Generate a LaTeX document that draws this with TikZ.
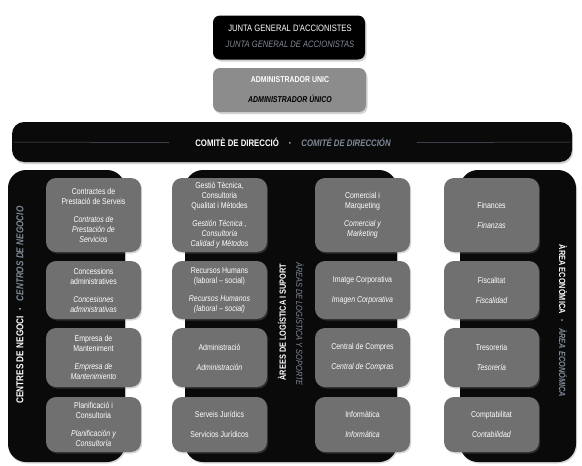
\documentclass[tikz,border=0pt]{standalone}
\usepackage{fontspec}
\setmainfont{Liberation Sans}
\newfontfamily\cond[FakeStretch=0.82]{Liberation Sans}
\usetikzlibrary{shadows}
\definecolor{boxgray}{RGB}{112,112,112}
\definecolor{admgray}{RGB}{140,140,140}
\definecolor{paneldark}{RGB}{10,10,10}
\definecolor{bluegray}{RGB}{128,138,152}
\definecolor{linegray}{RGB}{85,95,108}
\tikzset{
  gbox/.style={draw=none, fill=boxgray, rounded corners=10pt, minimum width=95pt,
    inner sep=0pt, align=center, text=white,
    font=\cond\fontsize{8.5}{10}\selectfont,
    drop shadow={opacity=0.3, shadow xshift=1.2pt, shadow yshift=-1.5pt}},
  rowa/.style={minimum height=74pt},
  rowb/.style={minimum height=58pt},
  rowc/.style={minimum height=59pt},
  rowd/.style={minimum height=55pt},
  panel/.style={fill=paneldark, draw=none, rounded corners=18pt, inner sep=0pt,
    drop shadow={opacity=0.3, shadow xshift=1pt, shadow yshift=-1.5pt}},
}
\begin{document}
\begin{tikzpicture}[x=1pt,y=-1pt]
\useasboundingbox (0,0) rectangle (582,466);
\fill[white] (0,0) rectangle (582,466);

% top boxes
\node[fill=black, rounded corners=7pt, minimum width=152pt, minimum height=44pt, inner sep=0pt,
  drop shadow={opacity=0.35, shadow xshift=1.5pt, shadow yshift=-2pt}] (junta) at (289,37.5) {};
\node[text=white, font=\cond\fontsize{9.3}{11}\selectfont, inner sep=0pt] (juntaca) at (290,28.5) {JUNTA GENERAL D'ACCIONISTES};
\node[text=bluegray, font=\cond\itshape\fontsize{9.3}{11}\selectfont, inner sep=0pt] (juntaes) at (290,44.5) {JUNTA GENERAL DE ACCIONISTAS};

\node[fill=admgray, rounded corners=7pt, minimum width=153pt, minimum height=44pt, inner sep=0pt,
  drop shadow={opacity=0.35, shadow xshift=1.5pt, shadow yshift=-2pt}] (admin) at (289.5,90) {};
\node[text=white, font=\cond\bfseries\fontsize{8.5}{10}\selectfont, inner sep=0pt] (adminca) at (290,79.5) {ADMINISTRADOR UNIC};
\node[text=black, font=\cond\bfseries\itshape\fontsize{8.5}{10}\selectfont, inner sep=0pt] (admines) at (290,99) {ADMINISTRADOR ÚNICO};

% comite bar
\node[fill=paneldark, rounded corners=12pt, minimum width=560pt, minimum height=40pt, inner sep=0pt,
  drop shadow={opacity=0.35, shadow xshift=1pt, shadow yshift=-2pt}] (bar) at (292,142) {};
\node[inner sep=0pt, font=\cond\bfseries\fontsize{9.5}{11}\selectfont] (comtext) at (293,142.5)
  {\textcolor{white}{COMITÈ DE DIRECCIÓ}\hspace{10pt}\textcolor{white}{·}\hspace{10pt}\textcolor{bluegray}{\itshape COMITÉ DE DIRECCIÓN}};
\draw[linegray, line width=0.5pt] ([xshift=2pt]bar.west) -- ([xshift=-26pt]comtext.west);
\draw[linegray, line width=0.5pt] ([xshift=-2pt]bar.east) -- ([xshift=26pt]comtext.east);

% panels
\node[panel, minimum width=117pt, minimum height=292pt] (p1) at (66.5,316) {};
\node[panel, minimum width=212pt, minimum height=292pt] (p2) at (291,316) {};
\node[panel, minimum width=116pt, minimum height=292pt] (p3) at (518,316) {};

% panel labels
\node[rotate=90, inner sep=0pt, font=\cond\bfseries\fontsize{10}{12}\selectfont] (lab1) at (20,305)
  {\textcolor{white}{CENTRES DE NEGOCI}\hspace{6pt}\textcolor{white}{·}\hspace{6pt}\textcolor{bluegray}{\itshape CENTROS DE NEGOCIO}};
\node[rotate=90, inner sep=0pt, text=white, font=\cond\bfseries\fontsize{9}{11}\selectfont] (lab2a) at (282,322) {ÀREES DE LOGÍSTICA I SUPORT};
\node[rotate=-90, inner sep=0pt, text=bluegray, font=\cond\itshape\fontsize{9}{11}\selectfont] (lab2b) at (300,324) {ÀREAS DE LOGÍSTICA Y SOPORTE};
\node[rotate=-90, inner sep=0pt, font=\cond\bfseries\fontsize{9}{11}\selectfont] (lab3) at (563,321)
  {\textcolor{white}{ÀREA ECONÒMICA}\hspace{6pt}\textcolor{white}{·}\hspace{6pt}\textcolor{bluegray}{\itshape ÀREA ECONÓMICA}};

% column 1
\node[gbox, rowa] (a1) at (93.5,215) {Contractes de\\Prestació de Serveis\\[8pt]\itshape Contratos de\\\itshape Prestación de\\\itshape Servicios};
\node[gbox, rowb] (a2) at (93.5,290) {Concessions\\administratives\\[8pt]\itshape Concesiones\\\itshape administrativas};
\node[gbox, rowc] (a3) at (93.5,357.5) {Empresa de\\Manteniment\\[8pt]\itshape Empresa de\\\itshape Mantenimiento};
\node[gbox, rowd] (a4) at (93.5,424.5) {Planificació i\\Consultoria\\[8pt]\itshape Planificación y\\\itshape Consultoría};

% column 2
\node[gbox, rowa] (b1) at (219.5,215) {Gestió Tècnica,\\Consultoria\\Qualitat i Mètodes\\[8pt]\itshape Gestión Técnica ,\\\itshape Consultoría\\\itshape Calidad y Métodos};
\node[gbox, rowb] (b2) at (219.5,290) {Recursos Humans\\(laboral – social)\\[8pt]\itshape Recursos Humanos\\\itshape (laboral – social)};
\node[gbox, rowc] (b3) at (219.5,357.5) {Administració\\[10pt]\itshape Administración};
\node[gbox, rowd] (b4) at (219.5,424.5) {Serveis Jurídics\\[10pt]Servicios Jurídicos};

% column 3
\node[gbox, rowa] (c1) at (362.5,215) {Comercial i\\Marqueting\\[8pt]\itshape Comercial y\\\itshape Marketing};
\node[gbox, rowb] (c2) at (362.5,290) {Imatge Corporativa\\[10pt]\itshape Imagen Corporativa};
\node[gbox, rowc] (c3) at (362.5,357.5) {Central de Compres\\[10pt]\itshape Central de Compras};
\node[gbox, rowd] (c4) at (362.5,424.5) {Informàtica\\[10pt]\itshape Informática};

% column 4
\node[gbox, rowa] (d1) at (491.5,215) {Finances\\[10pt]\itshape Finanzas};
\node[gbox, rowb] (d2) at (491.5,290) {Fiscalitat\\[10pt]\itshape Fiscalidad};
\node[gbox, rowc] (d3) at (491.5,357.5) {Tresoreria\\[10pt]\itshape Tesorería};
\node[gbox, rowd] (d4) at (491.5,424.5) {Comptabilitat\\[10pt]\itshape Contabilidad};
\end{tikzpicture}
\end{document}
